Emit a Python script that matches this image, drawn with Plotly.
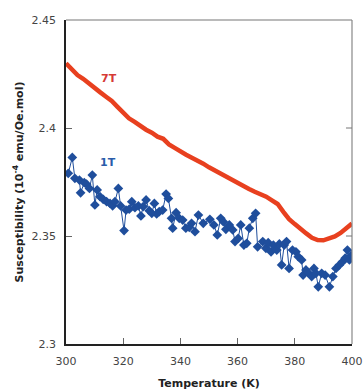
import plotly.graph_objects as go

# 7T series (dense curve)
t7 = [300, 302, 304, 306, 308, 310, 312, 314, 316, 318, 320, 322, 324, 326, 328, 330,
      332, 334, 336, 338, 340, 342, 344, 346, 348, 350, 352, 354, 356, 358, 360, 362,
      364, 366, 368, 370, 372, 374, 376, 378, 380, 382, 384, 386, 388, 390, 392, 394,
      396, 398, 400]
chi7 = [2.4300, 2.4270, 2.4245, 2.4228, 2.4205, 2.4188, 2.4165, 2.4145, 2.4125, 2.4098,
        2.4068, 2.4045, 2.4028, 2.4008, 2.3992, 2.3978, 2.3960, 2.3950, 2.3924, 2.3908,
        2.3890, 2.3876, 2.3862, 2.3850, 2.3835, 2.3818, 2.3803, 2.3790, 2.3775, 2.3762,
        2.3748, 2.3730, 2.3718, 2.3705, 2.3695, 2.3682, 2.3665, 2.3648, 2.3612, 2.3578,
        2.3555, 2.3530, 2.3512, 2.3492, 2.3481, 2.3480, 2.3487, 2.3498, 2.3514, 2.3533,
        2.3558]

# 1T series (markers + thin line)
t1 = [300.8, 302.2, 303.1, 304.7, 305.1, 306.4, 307.2, 308.2, 309.2, 310.1, 310.9, 311.9,
      313.0, 314.2, 315.4, 316.3, 317.1, 318.3, 319.1, 320.3, 321.0, 322.1, 323.0, 324.1,
      325.3, 326.2, 327.0, 328.0, 329.1, 330.0, 330.9, 331.7, 332.6, 333.8, 335.0, 335.8,
      336.9, 337.3, 338.5, 339.6, 340.8, 341.9, 343.1, 343.9, 345.1, 346.3, 348.0, 350.3,
      351.7, 352.9, 354.1, 355.0, 355.9, 357.1, 358.3, 359.1, 360.2, 361.1, 362.2, 363.2,
      364.1, 365.3, 366.3, 367.0, 368.8, 369.9, 370.7, 371.7, 372.5, 373.7, 374.6, 375.4,
      376.3, 377.1, 378.0, 379.2, 380.4, 381.2, 382.4, 382.9, 383.9, 384.7, 385.9, 386.7,
      387.4, 388.2, 389.4, 390.6, 392.1, 393.3, 394.4, 395.6, 396.7, 397.6, 398.4, 399.1,
      399.8]
chi1 = [2.3790, 2.3864, 2.3767, 2.3759, 2.3700, 2.3747, 2.3740, 2.3720, 2.3782, 2.3644,
        2.3713, 2.3682, 2.3670, 2.3659, 2.3651, 2.3640, 2.3659, 2.3720, 2.3639, 2.3525,
        2.3620, 2.3624, 2.3659, 2.3631, 2.3639, 2.3593, 2.3636, 2.3667, 2.3617, 2.3605,
        2.3651, 2.3602, 2.3613, 2.3620, 2.3694, 2.3674, 2.3582, 2.3536, 2.3608, 2.3582,
        2.3574, 2.3536, 2.3540, 2.3559, 2.3520, 2.3597, 2.3559, 2.3577, 2.3551, 2.3505,
        2.3582, 2.3566, 2.3531, 2.3551, 2.3528, 2.3474, 2.3489, 2.3551, 2.3458, 2.3466,
        2.3536, 2.3582, 2.3605, 2.3450, 2.3474, 2.3443, 2.3469, 2.3427, 2.3458, 2.3435,
        2.3463, 2.3366, 2.3458, 2.3474, 2.3350, 2.3435, 2.3427, 2.3404, 2.3389, 2.3319,
        2.3343, 2.3330, 2.3312, 2.3350, 2.3327, 2.3265, 2.3327, 2.3319, 2.3265, 2.3312,
        2.3350, 2.3366, 2.3381, 2.3397, 2.3435, 2.3389, 2.3410]

xticks = [300, 320, 340, 360, 380, 400]
yticks = [2.3, 2.35, 2.4, 2.45]
yticktext = ["2.3", "2.35", "2.4", "2.45"]

RED = "#e8401f"
BLUE = "#1f4e9c"
FONT = "DejaVu Sans"

fig = go.Figure()
fig.add_trace(go.Scatter(x=t7, y=chi7, mode="lines",
                         line=dict(color=RED, width=4.5), showlegend=False))
fig.add_trace(go.Scatter(x=t1, y=chi1, mode="lines+markers",
                         line=dict(color=BLUE, width=1),
                         marker=dict(symbol="diamond", size=7.5, color=BLUE),
                         showlegend=False))

fig.add_annotation(x=315.1, y=2.4230, text="<b>7T</b>", showarrow=False,
                   font=dict(family=FONT, size=11, color="#d63a35"))
fig.add_annotation(x=314.8, y=2.3839, text="<b>1T</b>", showarrow=False,
                   font=dict(family=FONT, size=11, color="#2a5caa"))

fig.update_layout(
    width=363, height=390,
    margin=dict(l=66, r=11, t=20, b=46),
    paper_bgcolor="white", plot_bgcolor="white",
    font=dict(family=FONT, size=11, color="#444"),
    xaxis=dict(range=[300, 400], tickvals=xticks, ticks="inside", ticklen=6,
               tickcolor="#666", showgrid=False, zeroline=False, showline=True,
               linecolor="#222", linewidth=1.5, ticklabelstandoff=6, automargin=False,
               tickfont=dict(size=11, color="#444"),
               title=dict(text="<b>Temperature (K)</b>",
                          font=dict(size=11, color="#222"))),
    yaxis=dict(range=[2.3, 2.45], tickvals=yticks, ticktext=yticktext, ticks="inside",
               ticklen=6, tickcolor="#666", showgrid=False, zeroline=False,
               showline=True, linecolor="#222", linewidth=1.5, ticklabelstandoff=6,
               automargin=True,
               tickfont=dict(size=11, color="#444"),
               title=dict(text="<b>Susceptibility (10<sup>-4</sup> emu/Oe.mol)</b>",
                          standoff=6, font=dict(size=11, color="#222"))),
)
# top and right frame lines
fig.add_shape(type="line", xref="paper", yref="paper", x0=0, x1=1, y0=1, y1=1,
              line=dict(color="#777", width=1.2))
fig.add_shape(type="line", xref="paper", yref="paper", x0=1, x1=1, y0=0, y1=1,
              line=dict(color="#888", width=1.2))
# mirrored ticks on the right frame
for yv in yticks[1:-1]:
    fig.add_shape(type="line", xref="paper", yref="y", x0=1, x1=0.979, y0=yv, y1=yv,
                  line=dict(color="#777", width=1))

fig.write_html("out.html", config={"displayModeBar": False},
               post_script="document.body.style.margin='0';")
